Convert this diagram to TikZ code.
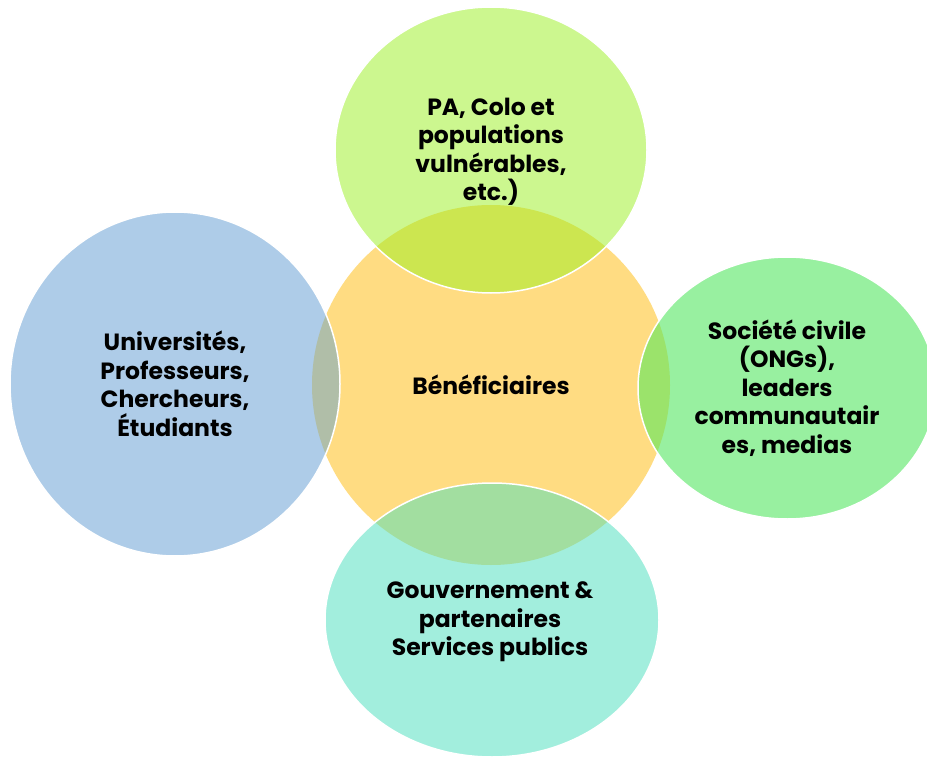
\documentclass[tikz,border=0pt]{standalone}
\usepackage{fontspec}
\setmainfont{Poppins}
\usepackage{xcolor}
\usepackage{tikz}
\usetikzlibrary{shapes,positioning}

\definecolor{benOrange}{HTML}{FFDC82}
\definecolor{topGreen}{HTML}{CCF78F}
\definecolor{topMix}{HTML}{CCE650}
\definecolor{rightGreen}{HTML}{98F0A0}
\definecolor{rightMix}{HTML}{9BE36B}
\definecolor{leftBlue}{HTML}{AECCE8}
\definecolor{leftMix}{HTML}{B0BEA8}
\definecolor{botTeal}{HTML}{A2EEDD}
\definecolor{botMix}{HTML}{A2DEA0}

\tikzset{
  txt/.style={align=center, text=black, font=\bfseries\fontsize{23.5}{28.5}\selectfont},
  rim/.style={draw=white, line width=1.5pt}
}

\begin{document}
\begin{tikzpicture}[x=1pt,y=-1pt]
    \useasboundingbox (0,0) rectangle (927,757);

    % Beneficiaires (centre)
    \fill[benOrange] (491,385) ellipse [x radius=179pt, y radius=180pt];

    % top: PA, Colo
    \fill[topGreen] (491,150) ellipse [x radius=156pt, y radius=143pt];
    \begin{scope}
        \clip (491,385) ellipse [x radius=179pt, y radius=180pt];
        \fill[topMix] (491,150) ellipse [x radius=156pt, y radius=143pt];
    \end{scope}
    \draw[rim] (491,150) ellipse [x radius=156pt, y radius=143pt];

    % left: Universites
    \fill[leftBlue] (175,384) ellipse [x radius=165pt, y radius=172pt];
    \begin{scope}
        \clip (491,385) ellipse [x radius=179pt, y radius=180pt];
        \fill[leftMix] (175,384) ellipse [x radius=165pt, y radius=172pt];
    \end{scope}
    \draw[rim] (175,384) ellipse [x radius=165pt, y radius=172pt];

    % right: Societe civile
    \fill[rightGreen] (787,388) ellipse [x radius=149pt, y radius=131pt];
    \begin{scope}
        \clip (491,385) ellipse [x radius=179pt, y radius=180pt];
        \fill[rightMix] (787,388) ellipse [x radius=149pt, y radius=131pt];
    \end{scope}
    \draw[rim] (787,388) ellipse [x radius=149pt, y radius=131pt];

    % bottom: Gouvernement
    \fill[botTeal] (492,620) ellipse [x radius=167pt, y radius=137pt];
    \begin{scope}
        \clip (491,385) ellipse [x radius=179pt, y radius=180pt];
        \fill[botMix] (492,620) ellipse [x radius=167pt, y radius=137pt];
    \end{scope}
    \draw[rim] (492,620) ellipse [x radius=167pt, y radius=137pt];

    % labels
    \node[txt] (ben) at (491,385) {Bénéficiaires};
    \node[txt] (pa) at (491,152) {PA, Colo et\\populations\\vulnérables,\\etc.)};
    \node[txt] (univ) at (175,384) {Universités,\\Professeurs,\\Chercheurs,\\Étudiants};
    \node[txt] (civ) at (787,388) {Société civile\\(ONGs),\\leaders\\communautair\\es, medias};
    \node[txt] (gouv) at (490,622) {Gouvernement \&\\partenaires\\Services publics};
\end{tikzpicture}
\end{document}
